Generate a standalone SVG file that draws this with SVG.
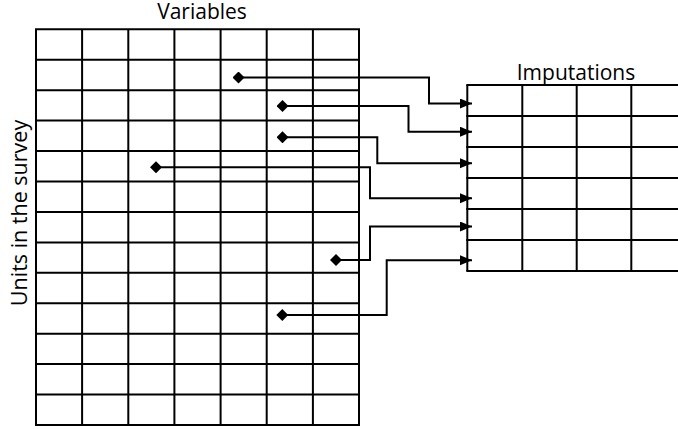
<svg xmlns="http://www.w3.org/2000/svg" width="678" height="429" viewBox="0 0 678 429">
  <style>
    .grid line { stroke: #000; stroke-width: 2; }
    .conn { fill: none; stroke: #000; stroke-width: 2; }
    .label { font-family: "Open Sans", "DejaVu Sans", sans-serif; font-size: 21px; fill: #000; }
  </style>
  <defs>
    <marker id="arrow" markerUnits="userSpaceOnUse" markerWidth="14" markerHeight="12" refX="12" refY="5" orient="auto">
      <path d="M0,0 L12,5 L0,10 Z" fill="#000"/>
    </marker>
    <marker id="diamond" markerUnits="userSpaceOnUse" markerWidth="12" markerHeight="12" refX="6" refY="6" orient="auto">
      <path d="M6,0 L12,6 L6,12 L0,6 Z" fill="#000"/>
    </marker>
  </defs>
  <rect width="678" height="429" fill="#fff"/>

  <!-- Survey data table: 7 variables x 13 units -->
  <g id="survey-table" class="grid">
    <line x1="36" y1="29.3" x2="36" y2="425"/>
    <line x1="82.1" y1="29.3" x2="82.1" y2="425"/>
    <line x1="128.3" y1="29.3" x2="128.3" y2="425"/>
    <line x1="174.4" y1="29.3" x2="174.4" y2="425"/>
    <line x1="220.6" y1="29.3" x2="220.6" y2="425"/>
    <line x1="266.7" y1="29.3" x2="266.7" y2="425"/>
    <line x1="312.9" y1="29.3" x2="312.9" y2="425"/>
    <line x1="359" y1="29.3" x2="359" y2="425"/>

    <line x1="35" y1="29.3" x2="360" y2="29.3"/>
    <line x1="35" y1="59.7" x2="360" y2="59.7"/>
    <line x1="35" y1="90.2" x2="360" y2="90.2"/>
    <line x1="35" y1="120.6" x2="360" y2="120.6"/>
    <line x1="35" y1="151" x2="360" y2="151"/>
    <line x1="35" y1="181.5" x2="360" y2="181.5"/>
    <line x1="35" y1="211.9" x2="360" y2="211.9"/>
    <line x1="35" y1="242.4" x2="360" y2="242.4"/>
    <line x1="35" y1="272.8" x2="360" y2="272.8"/>
    <line x1="35" y1="303.2" x2="360" y2="303.2"/>
    <line x1="35" y1="333.7" x2="360" y2="333.7"/>
    <line x1="35" y1="364.1" x2="360" y2="364.1"/>
    <line x1="35" y1="394.6" x2="360" y2="394.6"/>
    <line x1="35" y1="425" x2="360" y2="425"/>
  </g>

  <!-- Imputation table: 6 rows, runs off the right edge -->
  <g id="imputation-table" class="grid">
    <line x1="467.3" y1="85" x2="467.3" y2="271"/>
    <line x1="522.3" y1="85" x2="522.3" y2="271"/>
    <line x1="576.7" y1="85" x2="576.7" y2="271"/>
    <line x1="631.3" y1="85" x2="631.3" y2="271"/>

    <line x1="466.3" y1="85" x2="678" y2="85"/>
    <line x1="466.3" y1="116" x2="678" y2="116"/>
    <line x1="466.3" y1="147" x2="678" y2="147"/>
    <line x1="466.3" y1="178" x2="678" y2="178"/>
    <line x1="466.3" y1="209" x2="678" y2="209"/>
    <line x1="466.3" y1="240" x2="678" y2="240"/>
    <line x1="466.3" y1="271" x2="678" y2="271"/>
  </g>

  <g id="labels">
    <text id="label-variables" class="label" x="202" y="19" text-anchor="middle">Variables</text>
    <text id="label-imputations" class="label" x="576" y="80" text-anchor="middle">Imputations</text>
    <text id="label-units" class="label" transform="translate(27 213) rotate(-90)" text-anchor="middle" style="font-size:21.5px">Units in the survey</text>
  </g>

  <!-- Connectors: selected cells routed to imputation rows -->
  <g id="connectors" class="conn">
    <path d="M238.5,77.5 H429 V103.5 H472" marker-start="url(#diamond)" marker-end="url(#arrow)"/>
    <path d="M282.5,106 H408.5 V131.7 H472" marker-start="url(#diamond)" marker-end="url(#arrow)"/>
    <path d="M282.5,137.3 H377.3 V163.3 H472" marker-start="url(#diamond)" marker-end="url(#arrow)"/>
    <path d="M156,167.3 H370 V198.3 H472" marker-start="url(#diamond)" marker-end="url(#arrow)"/>
    <path d="M336,260 H370 V226.5 H472" marker-start="url(#diamond)" marker-end="url(#arrow)"/>
    <path d="M282.3,315 H386.7 V260.3 H472" marker-start="url(#diamond)" marker-end="url(#arrow)"/>
  </g>
</svg>
